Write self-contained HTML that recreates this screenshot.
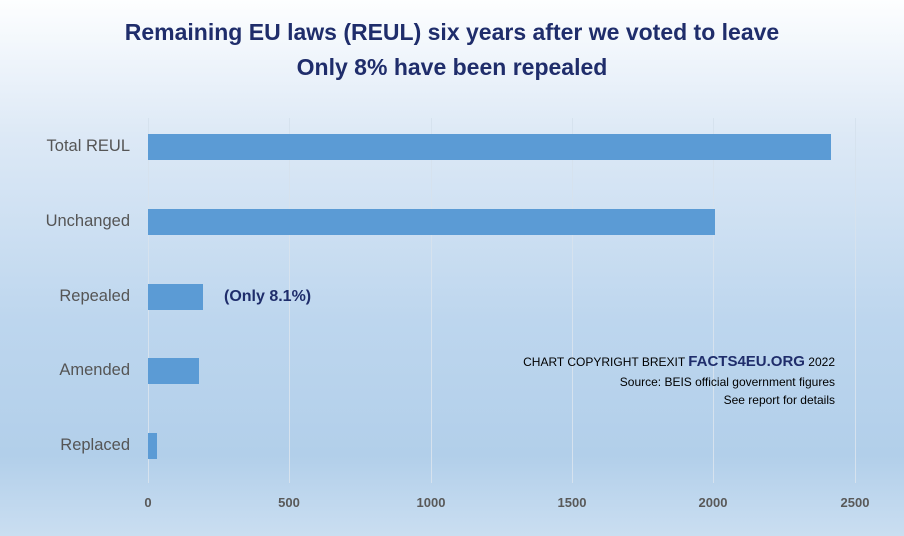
<!DOCTYPE html>
<html><head><style>
body{margin:0}
#c{position:relative;width:904px;height:536px;overflow:hidden;font-family:"Liberation Sans",sans-serif;
background:linear-gradient(#fdfeff 0%,#dde9f6 25%,#bdd6ee 60%,#b2cfea 85%,#cadef1 100%)}
.t{position:absolute;left:0;width:904px;text-align:center;color:#1f2d6b;font-weight:bold;font-size:23px}
.g{position:absolute;top:118px;height:365px;width:1px;background:#d6e2ee}
.b{position:absolute;left:148px;height:26px;background:#5b9bd5}
.l{position:absolute;right:774px;font-size:16.5px;color:#555;text-align:right;white-space:nowrap}
.x{position:absolute;top:495px;font-size:13px;font-weight:bold;color:#595959;width:60px;margin-left:-30px;text-align:center}
.n{position:absolute;right:69px;text-align:right;font-size:12px;color:#000;white-space:nowrap}
</style></head><body><div id="c">
<div class="t" style="top:19px">Remaining EU laws (REUL) six years after we voted to leave</div>
<div class="t" style="top:54px">Only 8% have been repealed</div>
<div class="g" style="left:148px"></div><div class="g" style="left:289px"></div><div class="g" style="left:431px"></div>
<div class="g" style="left:572px"></div><div class="g" style="left:713px"></div><div class="g" style="left:855px"></div>
<div class="b" style="top:134px;width:683px"></div>
<div class="b" style="top:209px;width:567px"></div>
<div class="b" style="top:284px;width:55px"></div>
<div class="b" style="top:358px;width:51px"></div>
<div class="b" style="top:433px;width:9px"></div>
<div class="l" style="top:137px">Total REUL</div>
<div class="l" style="top:212px">Unchanged</div>
<div class="l" style="top:287px">Repealed</div>
<div class="l" style="top:361px">Amended</div>
<div class="l" style="top:436px">Replaced</div>
<div style="position:absolute;left:224px;top:288px;font-size:16px;font-weight:bold;color:#1f2d6b">(Only 8.1%)</div>
<div class="n" style="top:353px">CHART COPYRIGHT BREXIT <b style="font-size:15px;color:#1f2d6b">FACTS4EU.ORG</b> 2022</div>
<div class="n" style="top:375px">Source: BEIS official government figures</div>
<div class="n" style="top:393px">See report for details</div>
<div class="x" style="left:148px">0</div><div class="x" style="left:289px">500</div><div class="x" style="left:431px">1000</div>
<div class="x" style="left:572px">1500</div><div class="x" style="left:713px">2000</div><div class="x" style="left:855px">2500</div>
</div></body></html>
